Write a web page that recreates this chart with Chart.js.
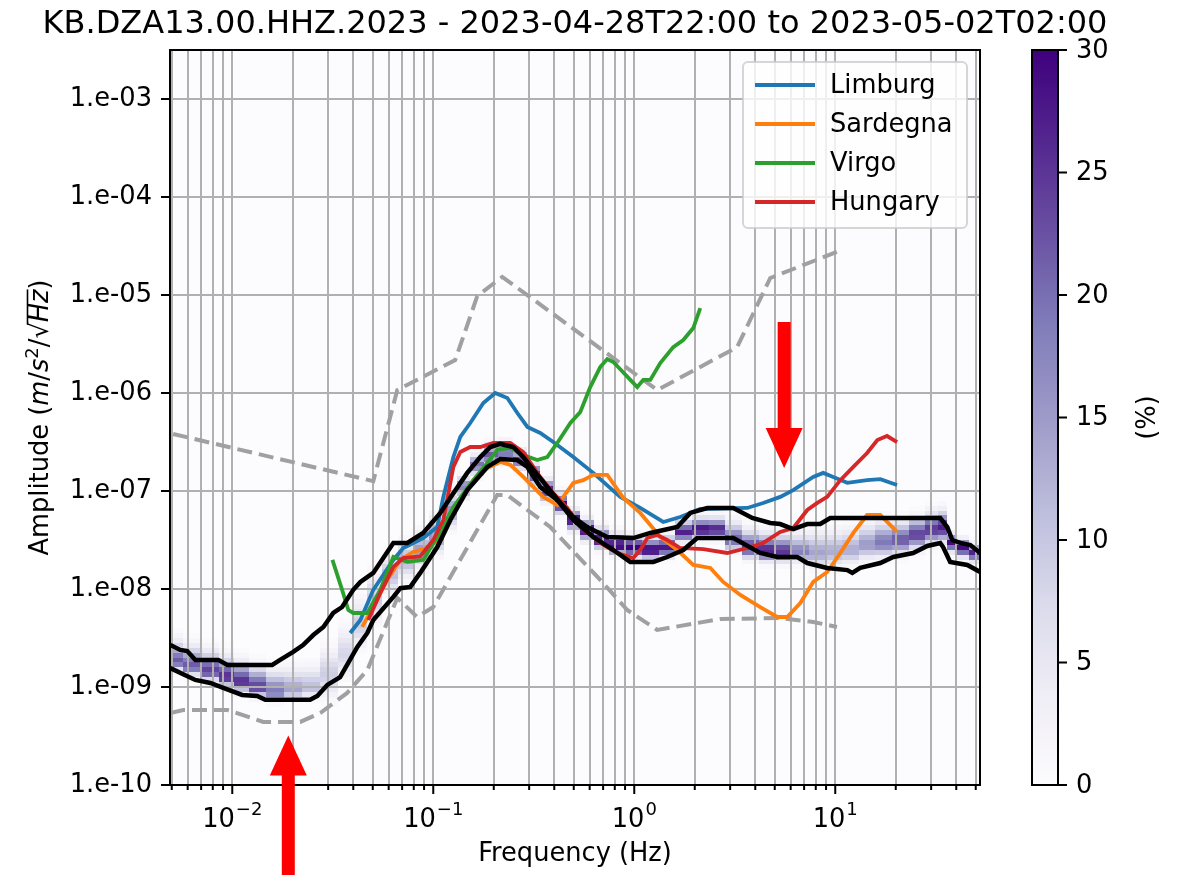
<!DOCTYPE html>
<html>
<head>
<meta charset="utf-8">
<script src="https://cdn.jsdelivr.net/npm/chart.js@4.4.0/dist/chart.umd.min.js"></script>
<style>
  html, body { margin: 0; padding: 0; background: #fff; }
  #wrap { width: 1184px; height: 875px; }
</style>
</head>
<body>
<div id="wrap"><canvas id="chart-ppsd" width="1184" height="875"></canvas></div>
<script>
// ---- axes ----
const xRange = [0.0049, 52.5];
const yRange = [1e-10, 3.16e-3];
const yTickValues = [1e-10, 1e-9, 1e-8, 1e-7, 1e-6, 1e-5, 1e-4, 1e-3];
const yTickLabels = ['1.e-10', '1.e-09', '1.e-08', '1.e-07', '1.e-06', '1.e-05', '1.e-04', '1.e-03'];
const xMajorTicks = [0.01, 0.1, 1, 10];
const xMajorExps = ['\u22122', '\u22121', '0', '1'];
const colorTicks = [0, 5, 10, 15, 20, 25, 30];
const colorMax = 30;

// ---- percentile lines (black) ----
const lowF = [0.00492, 0.00584, 0.00655, 0.00778, 0.00902, 0.0112, 0.0133, 0.0146, 0.0244, 0.0265, 0.0297, 0.0344, 0.0419, 0.0470, 0.0503, 0.0633, 0.0686, 0.0769, 0.0861, 0.1047, 0.1216, 0.1476, 0.1857, 0.2155, 0.262, 0.294, 0.3405, 0.414, 0.4975, 0.625, 0.787, 0.955, 1.244, 1.459, 1.753, 2.057, 3.11, 4.236, 5.145, 6.47, 7.26, 9.12, 11.48, 12.16, 13.31, 16.75, 19.45, 24.4, 28.7, 33.3, 34.4, 37.3, 45.4, 52.6];
const lowA = [1.56e-9, 1.32e-9, 1.18e-9, 1.10e-9, 9.8e-10, 8.3e-10, 8.1e-10, 7.4e-10, 7.4e-10, 8.1e-10, 1.05e-9, 1.26e-9, 2.56e-9, 3.56e-9, 4.83e-9, 8.3e-9, 1.02e-8, 1.05e-8, 1.46e-8, 2.68e-8, 5.06e-8, 1.02e-7, 1.76e-7, 2.12e-7, 2.07e-7, 1.76e-7, 1.10e-7, 8.1e-8, 5.06e-8, 3.40e-8, 2.5e-8, 1.89e-8, 1.89e-8, 2.12e-8, 2.5e-8, 3.31e-8, 3.31e-8, 2.33e-8, 2.12e-8, 2.12e-8, 1.84e-8, 1.64e-8, 1.56e-8, 1.46e-8, 1.64e-8, 1.84e-8, 2.12e-8, 2.33e-8, 2.75e-8, 2.95e-8, 2.68e-8, 1.89e-8, 1.76e-8, 1.49e-8];
const highF = [0.00492, 0.00551, 0.00597, 0.00655, 0.00852, 0.00945, 0.0158, 0.0173, 0.0201, 0.0225, 0.0253, 0.0284, 0.0318, 0.0352, 0.0400, 0.0434, 0.0503, 0.0633, 0.0743, 0.0891, 0.1084, 0.1259, 0.1476, 0.1714, 0.1922, 0.2155, 0.250, 0.2805, 0.315, 0.369, 0.4285, 0.4975, 0.583, 0.734, 0.989, 1.202, 1.637, 1.90, 2.307, 3.11, 3.864, 4.75, 5.325, 6.18, 7.26, 8.42, 9.44, 33.3, 36.1, 38.2, 41.9, 47.0, 52.6];
const highA = [2.68e-9, 2.39e-9, 2.33e-9, 1.89e-9, 1.89e-9, 1.68e-9, 1.68e-9, 1.89e-9, 2.28e-9, 2.68e-9, 3.39e-9, 4.1e-9, 5.69e-9, 6.55e-9, 9.8e-9, 1.18e-8, 1.46e-8, 2.95e-8, 2.95e-8, 3.73e-8, 5.97e-8, 9.5e-8, 1.53e-7, 2.22e-7, 2.81e-7, 3.02e-7, 2.81e-7, 2.22e-7, 1.64e-7, 1.10e-7, 7.55e-8, 5.43e-8, 4.29e-8, 3.40e-8, 3.31e-8, 3.73e-8, 4.29e-8, 5.97e-8, 6.71e-8, 6.71e-8, 5.30e-8, 4.71e-8, 4.6e-8, 4.09e-8, 4.6e-8, 4.6e-8, 5.30e-8, 5.30e-8, 4.29e-8, 3.16e-8, 2.95e-8, 2.81e-8, 2.33e-8];

// ---- noise models (grey dashed) ----
const nhnmF = [0.00508, 0.0503, 0.0662, 0.1286, 0.1656, 0.2206, 1.301, 3.25, 4.75, 10.2];
const nhnmA = [3.82e-7, 1.26e-7, 1.07e-6, 2.17e-6, 9.77e-6, 1.53e-5, 1.07e-6, 2.94e-6, 1.49e-5, 2.75e-5];
const nlnmF = [0.00492, 0.0057, 0.00945, 0.01426, 0.0218, 0.0274, 0.0373, 0.0470, 0.0662, 0.0832, 0.1, 0.208, 0.2335, 0.382, 0.677, 0.923, 1.301, 2.68, 5.325, 7.77, 10.2];
const nlnmA = [5.43e-10, 5.83e-10, 5.83e-10, 4.4e-10, 4.4e-10, 5.43e-10, 8.7e-10, 1.49e-9, 8.1e-9, 5.18e-9, 6.55e-9, 9.1e-8, 9.1e-8, 4.29e-8, 1.24e-8, 6.1e-9, 3.82e-9, 4.94e-9, 5.06e-9, 4.6e-9, 4.1e-9];

// ---- sites ----
const limburgF = [0.0386, 0.0434, 0.0503, 0.0633, 0.0709, 0.0891, 0.1047, 0.1122, 0.1259, 0.1363, 0.1528, 0.1774, 0.2034, 0.2335, 0.262, 0.294, 0.3405, 0.3954, 0.4975, 0.625, 0.852, 1.071, 1.394, 1.694, 2.13, 3.65, 4.38, 5.325, 6.18, 7.77, 8.71, 9.77, 11.48, 14.4, 16.75, 20.3];
const limburgA = [3.56e-9, 4.83e-9, 9.8e-9, 1.98e-8, 2.62e-8, 3.31e-8, 4.29e-8, 8.7e-8, 2.22e-7, 3.56e-7, 4.94e-7, 7.9e-7, 1.0e-6, 8.9e-7, 6.25e-7, 4.5e-7, 3.91e-7, 3.16e-7, 2.22e-7, 1.53e-7, 8.7e-8, 6.71e-8, 4.83e-8, 5.43e-8, 6.55e-8, 6.71e-8, 7.55e-8, 8.7e-8, 1.02e-7, 1.39e-7, 1.53e-7, 1.39e-7, 1.21e-7, 1.29e-7, 1.32e-7, 1.15e-7];
const sardegnaF = [0.0443, 0.0503, 0.0590, 0.0686, 0.0795, 0.0933, 0.1047, 0.1316, 0.1581, 0.1857, 0.2155, 0.2415, 0.2805, 0.3525, 0.414, 0.4436, 0.4975, 0.5575, 0.625, 0.734, 0.882, 1.071, 1.347, 1.637, 1.966, 2.39, 2.77, 3.37, 4.236, 5.145, 5.77, 6.70, 7.77, 9.12, 10.6, 12.3, 14.4, 16.75, 20.3];
const sardegnaA = [4.1e-9, 6.55e-9, 1.24e-8, 1.98e-8, 2.39e-8, 2.62e-8, 3.16e-8, 6.87e-8, 1.29e-7, 1.72e-7, 1.98e-7, 1.85e-7, 1.39e-7, 8.7e-8, 7.2e-8, 8.7e-8, 1.21e-7, 1.29e-7, 1.46e-7, 1.46e-7, 8.5e-8, 5.97e-8, 3.40e-8, 2.5e-8, 1.76e-8, 1.64e-8, 1.18e-8, 8.7e-9, 6.55e-9, 5.18e-9, 5.18e-9, 7.2e-9, 1.18e-8, 1.49e-8, 2.33e-8, 3.73e-8, 5.69e-8, 5.69e-8, 3.82e-8];
const virgoF = [0.0315, 0.0352, 0.0378, 0.0400, 0.0470, 0.0545, 0.0633, 0.0743, 0.0891, 0.1047, 0.1259, 0.1581, 0.1857, 0.208, 0.2415, 0.2805, 0.329, 0.369, 0.414, 0.481, 0.539, 0.604, 0.677, 0.734, 0.787, 1.035, 1.109, 1.202, 1.347, 1.563, 1.753, 1.966, 2.13];
const virgoA = [1.98e-8, 9.8e-9, 6.1e-9, 5.69e-9, 5.69e-9, 9.8e-9, 2.12e-8, 1.89e-8, 1.98e-8, 3.40e-8, 6.87e-8, 1.29e-7, 1.93e-7, 2.62e-7, 2.75e-7, 2.33e-7, 2.07e-7, 2.22e-7, 3.09e-7, 4.94e-7, 6.4e-7, 1.15e-6, 1.84e-6, 2.22e-6, 2.07e-6, 1.15e-6, 1.36e-6, 1.36e-6, 2.02e-6, 2.94e-6, 3.47e-6, 4.6e-6, 7.36e-6];
const hungaryF = [0.0475, 0.0545, 0.0633, 0.0709, 0.0861, 0.1, 0.1122, 0.1259, 0.1363, 0.1528, 0.1714, 0.199, 0.2415, 0.2805, 0.3405, 0.3954, 0.4645, 0.539, 0.677, 0.823, 0.989, 1.071, 1.161, 1.301, 1.459, 1.694, 2.205, 2.90, 3.65, 4.38, 5.325, 6.18, 7.26, 8.14, 9.12, 10.6, 12.3, 14.4, 16.2, 18.1, 20.3];
const hungaryA = [4.83e-9, 9.1e-9, 1.68e-8, 2.07e-8, 2.15e-8, 3.16e-8, 5.06e-8, 1.76e-7, 2.5e-7, 2.81e-7, 2.81e-7, 3.09e-7, 3.09e-7, 2.5e-7, 1.39e-7, 9.5e-8, 6.71e-8, 4.29e-8, 2.95e-8, 2.33e-8, 2.07e-8, 2.5e-8, 3.31e-8, 3.56e-8, 3.16e-8, 2.62e-8, 2.55e-8, 2.33e-8, 2.62e-8, 2.95e-8, 3.82e-8, 4.19e-8, 6.4e-8, 7.55e-8, 8.7e-8, 1.29e-7, 1.76e-7, 2.44e-7, 3.31e-7, 3.64e-7, 3.16e-7];
const siteNames = ['Limburg', 'Sardegna', 'Virgo', 'Hungary'];
const siteColors = ['#1f77b4', '#ff7f0e', '#2ca02c', '#d62728'];

// ---- histogram (mode amplitude, peak %, spread in decades) ----
const heatF = [0.00508, 0.0064, 0.00778, 0.00945, 0.01096, 0.0133, 0.01637, 0.0201, 0.0244, 0.0308, 0.0365, 0.0434, 0.0503, 0.0611, 0.0726, 0.0861, 0.1047, 0.1216, 0.141, 0.1656, 0.1922, 0.228, 0.271, 0.315, 0.369, 0.4285, 0.4975, 0.583, 0.677, 0.823, 0.989, 1.202, 1.459, 1.753, 2.13, 2.59, 3.11, 3.78, 4.59, 5.51, 6.70, 8.14, 9.77, 11.9, 14.4, 17.3, 21.1, 25.6, 30.7, 34.4, 37.3, 43.3, 49.7];
const heatMode = [1.80e-9, 1.60e-9, 1.42e-9, 1.24e-9, 1.10e-9, 9.8e-10, 8.9e-10, 9.3e-10, 9.8e-10, 1.32e-9, 2.12e-9, 4.29e-9, 7.72e-9, 1.39e-8, 1.98e-8, 2.5e-8, 3.56e-8, 6.4e-8, 1.10e-7, 1.84e-7, 2.33e-7, 2.5e-7, 2.07e-7, 1.46e-7, 1.02e-7, 7.4e-8, 5.06e-8, 4.0e-8, 3.16e-8, 2.75e-8, 2.62e-8, 2.5e-8, 2.62e-8, 3.73e-8, 4.0e-8, 4.0e-8, 3.16e-8, 2.62e-8, 2.44e-8, 2.39e-8, 2.39e-8, 2.33e-8, 2.39e-8, 2.5e-8, 2.81e-8, 2.95e-8, 3.16e-8, 3.56e-8, 4.0e-8, 4.19e-8, 2.95e-8, 2.62e-8, 2.33e-8];
const heatPeak = [22, 22, 24, 26, 26, 24, 19, 14, 11, 9, 8, 9, 9, 11, 13, 15, 16, 16, 18, 20, 22, 20, 22, 26, 27, 29, 30, 30, 29, 30, 30, 30, 28, 27, 29, 27, 21, 25, 27, 25, 18, 14, 13, 13, 15, 19, 22, 24, 25, 27, 29, 29, 27];
const heatUp = [0.12, 0.12, 0.12, 0.12, 0.12, 0.12, 0.12, 0.12, 0.12, 0.15, 0.15, 0.15, 0.15, 0.1, 0.1, 0.1, 0.1, 0.1, 0.06, 0.06, 0.06, 0.06, 0.06, 0.06, 0.06, 0.06, 0.06, 0.06, 0.07, 0.07, 0.07, 0.07, 0.07, 0.07, 0.07, 0.07, 0.1, 0.1, 0.1, 0.1, 0.1, 0.12, 0.12, 0.12, 0.12, 0.12, 0.1, 0.1, 0.1, 0.1, 0.05, 0.05, 0.05];
const heatDown = [0.05, 0.05, 0.05, 0.05, 0.05, 0.05, 0.05, 0.05, 0.05, 0.12, 0.12, 0.12, 0.12, 0.1, 0.1, 0.1, 0.1, 0.1, 0.06, 0.06, 0.06, 0.06, 0.06, 0.06, 0.06, 0.06, 0.06, 0.06, 0.05, 0.05, 0.05, 0.05, 0.05, 0.05, 0.05, 0.05, 0.06, 0.06, 0.06, 0.06, 0.06, 0.08, 0.08, 0.08, 0.08, 0.08, 0.08, 0.08, 0.08, 0.08, 0.05, 0.05, 0.05];

// ---- arrows (tail -> tip) ----
const arrowF = [0.019, 5.57];
const arrowTail = [1.2e-11, 5.3e-6];
const arrowTip = [3.2e-10, 1.72e-7];

const purples = ['#fcfbfd', '#efedf5', '#dadaeb', '#bcbddc', '#9e9ac8', '#807dba', '#6a51a3', '#54278f', '#3f007d'];
const FONT = '"DejaVu Sans", "Liberation Sans", sans-serif';
const FS = 25.7;

const hex = (h) => [1, 3, 5].map(i => parseInt(h.substr(i, 2), 16));
const cmap = (v) => {
  const t = Math.max(0, Math.min(1, v / colorMax)) * (purples.length - 1);
  const i = Math.min(purples.length - 2, Math.floor(t)), k = t - i;
  const a = hex(purples[i]), b = hex(purples[i + 1]);
  return `rgb(${a.map((c, j) => Math.round(c + (b[j] - c) * k)).join(',')})`;
};
const pts = (fs, as) => fs.map((f, i) => ({ x: f, y: as[i] }));

// minor grid positions 2..9 x 10^n
const xGridTicks = [];
for (let e = -3; e <= 1; e++) for (let m = 1; m <= 9; m++) {
  const v = +(m * Math.pow(10, e)).toPrecision(3);
  if (v >= xRange[0] && v <= xRange[1]) xGridTicks.push(v);
}

function drawArrow(ctx, x0, y0, x1, y1) {
  const dx = x1 - x0, dy = y1 - y0, L = Math.hypot(dx, dy);
  const ux = dx / L, uy = dy / L, px = -uy, py = ux;
  const hw = 6.5, HW = 18.5, HL = 40;
  const bx = x1 - ux * HL, by = y1 - uy * HL;
  ctx.beginPath();
  ctx.moveTo(x0 + px * hw, y0 + py * hw);
  ctx.lineTo(bx + px * hw, by + py * hw);
  ctx.lineTo(bx + px * HW, by + py * HW);
  ctx.lineTo(x1, y1);
  ctx.lineTo(bx - px * HW, by - py * HW);
  ctx.lineTo(bx - px * hw, by - py * hw);
  ctx.lineTo(x0 - px * hw, y0 - py * hw);
  ctx.closePath();
  ctx.fill();
}

const ppsdPlugin = {
  id: 'ppsd',
  beforeDraw(chart) {
    const { ctx, chartArea: a, scales: { x, y } } = chart;
    ctx.save();
    ctx.fillStyle = purples[0];
    ctx.fillRect(a.left, a.top, a.right - a.left, a.bottom - a.top);
    ctx.beginPath();
    ctx.rect(a.left, a.top, a.right - a.left, a.bottom - a.top);
    ctx.clip();
    const n = heatF.length, step = 0.05;
    heatF.forEach((f, i) => {
      const fl = i > 0 ? Math.sqrt(heatF[i - 1] * f) : f / Math.sqrt(heatF[1] / f);
      const fr = i < n - 1 ? Math.sqrt(heatF[i + 1] * f) : f * Math.sqrt(f / heatF[n - 2]);
      const x0 = Math.round(x.getPixelForValue(fl)), x1 = Math.round(x.getPixelForValue(fr));
      const lm = Math.log10(heatMode[i]);
      const k0 = Math.floor((lm - 3.5 * heatDown[i]) / step), k1 = Math.ceil((lm + 3.5 * heatUp[i]) / step);
      for (let k = k0; k <= k1; k++) {
        const d = (k + 0.5) * step - lm;
        const s = d < 0 ? heatDown[i] : heatUp[i];
        const v = heatPeak[i] * Math.exp(-0.5 * (d / s) * (d / s));
        if (v < 0.4) continue;
        const yb = Math.round(y.getPixelForValue(Math.pow(10, k * step)));
        const yt = Math.round(y.getPixelForValue(Math.pow(10, (k + 1) * step)));
        ctx.fillStyle = cmap(v);
        ctx.fillRect(x0, yt, x1 - x0, yb - yt);
      }
    });
    ctx.restore();
  },
  afterDraw(chart) {
    const { ctx, chartArea: a, scales: { x, y } } = chart;
    ctx.save();

    // frame
    ctx.strokeStyle = '#000';
    ctx.lineWidth = 2;
    ctx.strokeRect(a.left, a.top, a.right - a.left, a.bottom - a.top);

    // tick marks
    ctx.beginPath();
    xGridTicks.forEach(v => {
      const px = x.getPixelForValue(v);
      const major = xMajorTicks.includes(v);
      ctx.moveTo(px, a.bottom);
      ctx.lineTo(px, a.bottom + (major ? 9 : 5));
    });
    yTickValues.forEach(v => {
      const py = y.getPixelForValue(v);
      ctx.moveTo(a.left, py);
      ctx.lineTo(a.left - 9, py);
    });
    ctx.lineWidth = 2;
    ctx.stroke();

    // x tick labels 10^n
    ctx.fillStyle = '#000';
    ctx.textBaseline = 'alphabetic';
    ctx.textAlign = 'left';
    xMajorTicks.forEach((v, i) => {
      const px = x.getPixelForValue(v);
      ctx.font = `${FS}px ${FONT}`;
      const wb = ctx.measureText('10').width;
      ctx.font = `${FS * 0.7}px ${FONT}`;
      const we = ctx.measureText(xMajorExps[i]).width;
      const x0 = px - (wb + we + 1) / 2;
      ctx.font = `${FS}px ${FONT}`;
      ctx.fillText('10', x0, 827);
      ctx.font = `${FS * 0.7}px ${FONT}`;
      ctx.fillText(xMajorExps[i], x0 + wb + 1, 815);
    });

    // axis labels
    ctx.font = `${FS}px ${FONT}`;
    ctx.textAlign = 'center';
    ctx.fillText('Frequency (Hz)', (a.left + a.right) / 2, 861);

    ctx.save();
    ctx.translate(48, (a.top + a.bottom) / 2);
    ctx.rotate(-Math.PI / 2);
    const norm = `${FS}px ${FONT}`, ital = `oblique ${FS}px ${FONT}`, sup = `${FS * 0.7}px ${FONT}`;
    const parts = [['Amplitude (', norm, 0], ['m', ital, 0], ['/', norm, 0], ['s', ital, 0], ['2', sup, -10],
      ['/', norm, 0], ['\u221A', norm, 0], ['Hz', ital, 0], [')', norm, 0]];
    const widths = parts.map(p => { ctx.font = p[1]; return ctx.measureText(p[0]).width; });
    let cx = -widths.reduce((s, w) => s + w, 0) / 2;
    let ovStart = 0, ovEnd = 0;
    ctx.textAlign = 'left';
    parts.forEach((p, i) => {
      ctx.font = p[1];
      ctx.fillText(p[0], cx, p[2]);
      if (p[0] === '\u221A') ovStart = cx + widths[i] * 0.85;
      if (p[0] === 'Hz') ovEnd = cx + widths[i];
      cx += widths[i];
    });
    ctx.beginPath();
    ctx.moveTo(ovStart, -20.5);
    ctx.lineTo(ovEnd, -20.5);
    ctx.lineWidth = 1.6;
    ctx.stroke();
    ctx.restore();

    // title
    ctx.font = `32px ${FONT}`;
    ctx.textAlign = 'center';
    ctx.fillText('KB.DZA13.00.HHZ.2023 - 2023-04-28T22:00 to 2023-05-02T02:00', (a.left + a.right) / 2, 33);

    // legend
    const lx = a.right - 237, ly = a.top + 12, lw = 224, lh = 166;
    ctx.beginPath();
    ctx.roundRect(lx, ly, lw, lh, 5);
    ctx.fillStyle = 'rgba(255,255,255,0.8)';
    ctx.fill();
    ctx.strokeStyle = 'rgba(204,204,204,0.8)';
    ctx.lineWidth = 2;
    ctx.stroke();
    ctx.font = `${FS}px ${FONT}`;
    ctx.textAlign = 'left';
    ctx.textBaseline = 'middle';
    siteNames.forEach((name, i) => {
      const ry = ly + 23 + i * 39;
      ctx.strokeStyle = siteColors[i];
      ctx.lineWidth = 3.8;
      ctx.beginPath();
      ctx.moveTo(lx + 12, ry);
      ctx.lineTo(lx + 72, ry);
      ctx.stroke();
      ctx.fillStyle = '#000';
      ctx.fillText(name, lx + 87, ry + 1);
    });

    // colorbar
    const cbL = 1032, cbR = 1058, cbT = a.top, cbB = a.bottom;
    const grad = ctx.createLinearGradient(0, cbB, 0, cbT);
    purples.forEach((c, i) => grad.addColorStop(i / (purples.length - 1), c));
    ctx.fillStyle = grad;
    ctx.fillRect(cbL, cbT, cbR - cbL, cbB - cbT);
    ctx.strokeStyle = '#000';
    ctx.lineWidth = 2;
    ctx.strokeRect(cbL, cbT, cbR - cbL, cbB - cbT);
    ctx.fillStyle = '#000';
    ctx.textAlign = 'left';
    ctx.textBaseline = 'middle';
    colorTicks.forEach(v => {
      const py = cbB - (cbB - cbT) * v / colorMax;
      ctx.beginPath();
      ctx.moveTo(cbR, py);
      ctx.lineTo(cbR + 9, py);
      ctx.stroke();
      ctx.fillText(String(v), cbR + 18, py + 1);
    });
    ctx.save();
    ctx.translate(1148, (cbT + cbB) / 2);
    ctx.rotate(-Math.PI / 2);
    ctx.textAlign = 'center';
    ctx.fillText('(%)', 0, 0);
    ctx.restore();

    // arrows
    ctx.fillStyle = '#ff0000';
    arrowF.forEach((f, i) => {
      const px = x.getPixelForValue(f);
      drawArrow(ctx, px, y.getPixelForValue(arrowTail[i]), px, y.getPixelForValue(arrowTip[i]));
    });
    ctx.restore();
  }
};

const siteData = [[limburgF, limburgA], [sardegnaF, sardegnaA], [virgoF, virgoA], [hungaryF, hungaryA]];
const datasets = siteData.map((d, i) => ({
  label: siteNames[i], data: pts(d[0], d[1]), borderColor: siteColors[i], borderWidth: 3.8, order: 5 - i
}));
datasets.push(
  { label: 'NHNM', data: pts(nhnmF, nhnmA), borderColor: '#a0a0a0', borderWidth: 4, borderDash: [15, 7], order: 6 },
  { label: 'NLNM', data: pts(nlnmF, nlnmA), borderColor: '#a0a0a0', borderWidth: 4, borderDash: [15, 7], order: 6 },
  { label: 'low', data: pts(lowF, lowA), borderColor: '#000', borderWidth: 4.5, order: 0 },
  { label: 'high', data: pts(highF, highA), borderColor: '#000', borderWidth: 4.5, order: 0 }
);

new Chart(document.getElementById('chart-ppsd'), {
  type: 'line',
  data: { datasets },
  options: {
    responsive: false,
    animation: false,
    devicePixelRatio: 1,
    layout: { padding: { top: 50, right: 204, left: 0, bottom: 0 } },
    elements: { point: { radius: 0 }, line: { tension: 0, fill: false, borderCapStyle: 'butt' } },
    plugins: { legend: { display: false }, tooltip: { enabled: false }, title: { display: false } },
    scales: {
      x: {
        type: 'logarithmic', min: xRange[0], max: xRange[1],
        afterBuildTicks: (s) => { s.ticks = xGridTicks.map(v => ({ value: v })); },
        afterFit: (s) => { s.height = 90; s.paddingLeft = 0; s.paddingRight = 0; },
        ticks: { display: false, autoSkip: false },
        grid: { color: '#b0b0b0', lineWidth: 2, drawTicks: false },
        border: { display: false }
      },
      y: {
        type: 'logarithmic', min: yRange[0], max: yRange[1],
        afterBuildTicks: (s) => { s.ticks = yTickValues.map(v => ({ value: v })); },
        afterFit: (s) => { s.width = 170; s.paddingTop = 0; s.paddingBottom = 0; },
        ticks: {
          autoSkip: false, padding: 18, color: '#000',
          font: { family: FONT, size: FS },
          callback: (v, i) => yTickLabels[i]
        },
        grid: { color: '#b0b0b0', lineWidth: 2, drawTicks: false },
        border: { display: false }
      }
    }
  },
  plugins: [ppsdPlugin]
});
</script>
</body>
</html>
